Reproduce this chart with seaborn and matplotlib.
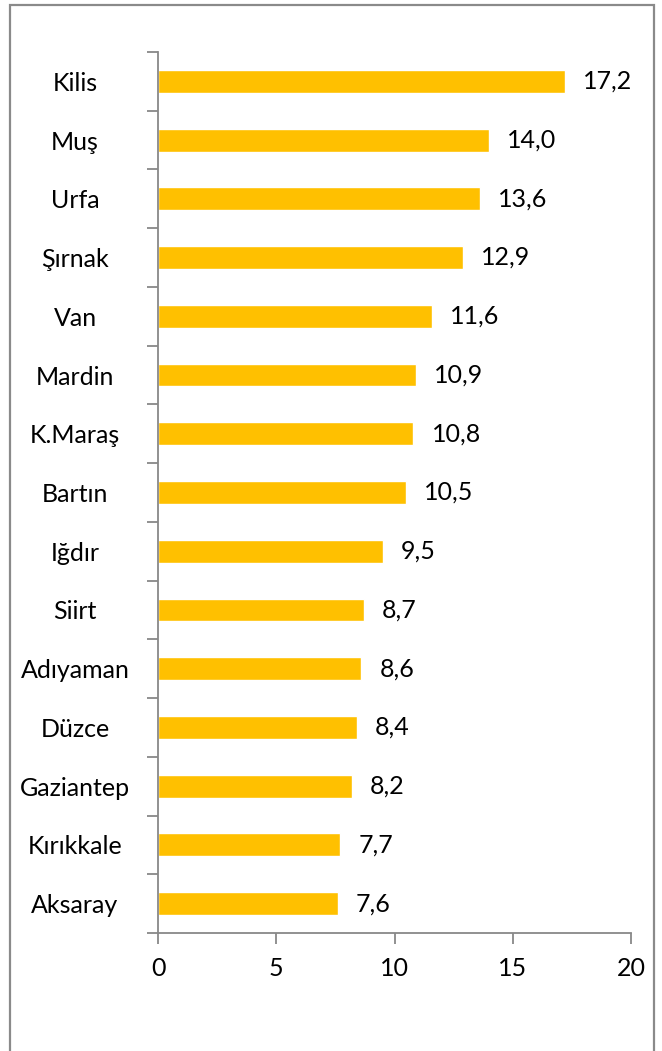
import matplotlib
matplotlib.use("Agg")
import matplotlib.pyplot as plt
import matplotlib.transforms as mtransforms
import seaborn as sns
import pandas as pd
import numpy as np
from matplotlib.patches import Rectangle

provinces = ["Kilis", "Muş", "Urfa", "Şırnak", "Van", "Mardin", "K.Maraş", "Bartın",
             "Iğdır", "Siirt", "Adıyaman", "Düzce", "Gaziantep", "Kırıkkale", "Aksaray"]
values = [17.2, 14.0, 13.6, 12.9, 11.6, 10.9, 10.8, 10.5, 9.5, 8.7, 8.6, 8.4, 8.2, 7.7, 7.6]
x_ticks = [0, 5, 10, 15, 20]

df = pd.DataFrame({"province": provinces, "value": values})

sns.set_theme(style="white")
plt.rcParams["font.family"] = ["Lato", "DejaVu Sans"]

W, H = 662, 1051
fig = plt.figure(figsize=(W / 100, H / 100), dpi=100)
ax = fig.add_axes([158 / W, 1 - 933 / H, (631 - 158) / W, (933 - 52) / H])

sns.barplot(data=df, x="value", y="province", orient="h", color="#FFC000",
            width=0.39, saturation=1, ax=ax, order=provinces)

ax.set_xlim(0, 20)
ax.set_ylim(len(provinces) - 0.5, -0.5)
ax.set_xlabel("")
ax.set_ylabel("")

axis_col = "#888888"
for s in ["top", "right"]:
    ax.spines[s].set_visible(False)
for s in ["left", "bottom"]:
    ax.spines[s].set_color(axis_col)
    ax.spines[s].set_linewidth(1.3)

ax.set_xticks(x_ticks)
ax.set_xticklabels([str(t) for t in x_ticks])
ax.tick_params(axis="x", direction="out", length=8, width=1.3, color=axis_col,
               labelsize=18, pad=9, labelcolor="black", bottom=True)
ax.set_yticks(range(len(provinces)))
ax.set_yticklabels(provinces)
ax.tick_params(axis="y", which="major", length=0, labelsize=18, labelcolor="black")
ax.set_yticks(np.arange(-0.5, len(provinces), 1.0), minor=True)
ax.tick_params(axis="y", which="minor", direction="out", length=8, width=1.3,
               color=axis_col, left=True)
ax.grid(False)

# y labels centred in a fixed column left of the axis
for lab in ax.get_yticklabels():
    lab.set_transform(mtransforms.blended_transform_factory(fig.transFigure, ax.transData))
    lab.set_x(75 / W)
    lab.set_horizontalalignment("center")

for i, v in enumerate(values):
    ax.annotate(f"{v:.1f}".replace(".", ","), xy=(v, i), xytext=(13, 0),
                textcoords="offset points", va="center", ha="left", fontsize=18,
                color="black")

fig.patches.append(Rectangle((9.5 / W, -0.01), (654 - 9.5) / W, 1 - 4.5 / H + 0.01,
                             transform=fig.transFigure, fill=False,
                             edgecolor="#8a8a8a", linewidth=1.6))

fig.savefig("out.png", dpi=100, facecolor="white")
